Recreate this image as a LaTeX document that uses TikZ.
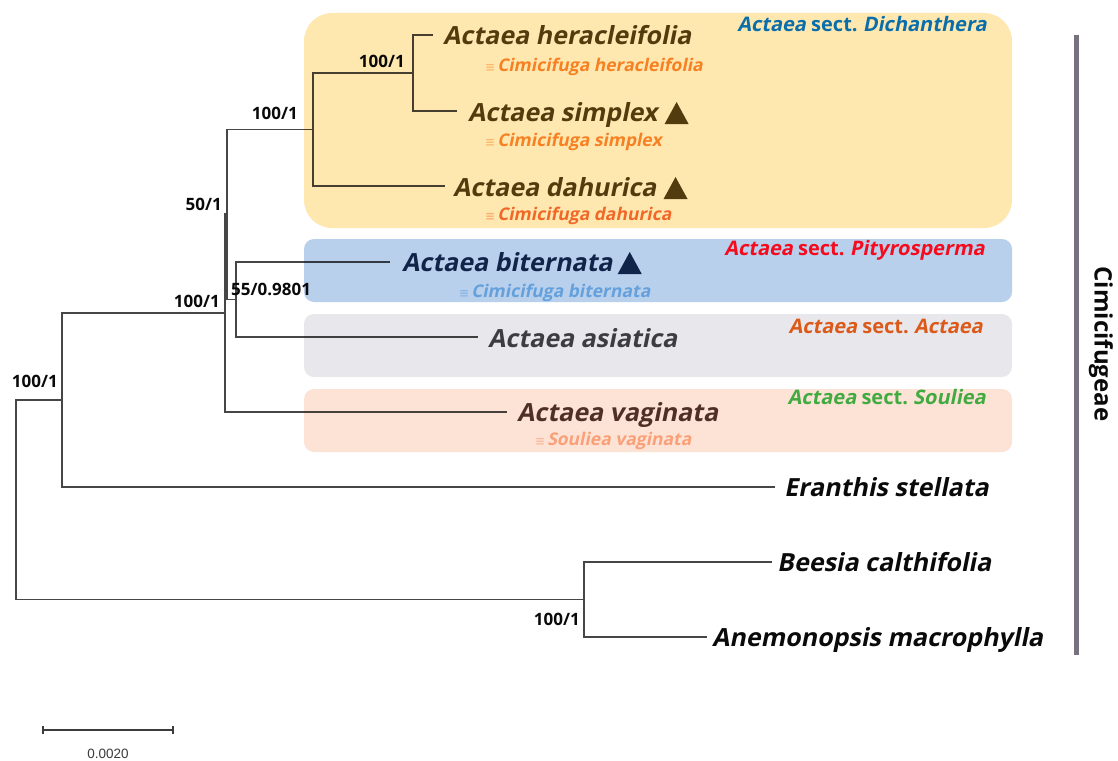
\documentclass[tikz,border=0pt]{standalone}
\usepackage{fontspec}
\setmainfont{Open Sans}
\newfontfamily\slantsans{Open Sans}[FakeSlant=0.2]
\newfontfamily\scalebarfont{Liberation Sans}
\newfontfamily\symfont{DejaVu Sans}
\definecolor{boxY}{RGB}{255,232,176}
\definecolor{boxB}{RGB}{184,208,236}
\definecolor{boxG}{RGB}{232,232,236}
\definecolor{boxP}{RGB}{253,227,214}
\definecolor{spBrown}{RGB}{82,60,14}
\definecolor{spNavy}{RGB}{16,36,74}
\definecolor{spGray}{RGB}{60,60,66}
\definecolor{spVag}{RGB}{80,48,38}
\definecolor{spBlack}{RGB}{10,10,10}
\definecolor{subOr}{RGB}{246,128,34}
\definecolor{subOrR}{RGB}{240,104,40}
\definecolor{subBlue}{RGB}{100,160,220}
\definecolor{subPink}{RGB}{250,160,120}
\definecolor{secBlue}{RGB}{10,110,170}
\definecolor{secRed}{RGB}{245,10,30}
\definecolor{secOrange}{RGB}{220,90,25}
\definecolor{secGreen}{RGB}{65,170,65}
\definecolor{treeline}{RGB}{70,70,70}
\definecolor{barGray}{RGB}{120,114,126}
\definecolor{scaleGray}{RGB}{60,60,60}
\tikzset{
  branch/.style={draw=treeline, line width=1.2pt},
  species/.style={anchor=base west, inner sep=0pt, font=\slantsans\fontsize{25}{28}\selectfont\bfseries},
  subname/.style={anchor=base west, inner sep=0pt, font=\slantsans\fontsize{17.5}{20}\selectfont\bfseries},
  sectlab/.style={anchor=base east, inner sep=0pt, font=\fontsize{20}{22}\selectfont\bfseries},
  boot/.style={inner sep=0pt, font=\fontsize{17}{19}\selectfont\bfseries, text=spBlack},
  bigbox/.style={rounded corners=28pt},
  smallbox/.style={rounded corners=10pt},
}
\newcommand{\eqv}[1]{{\symfont\fontsize{12}{12}\selectfont\color{#1}≡}\kern2pt}
\newcommand{\slnt}[1]{{\slantsans\bfseries #1}}
\begin{document}
\begin{tikzpicture}[x=1pt,y=-1pt]
\useasboundingbox (0,0) rectangle (1118,760);
\fill[white] (0,0) rectangle (1118,760);

% internal nodes
\coordinate (r) at (16,499.5);
\coordinate (ing) at (62,400);
\coordinate (outg) at (584,599.5);
\coordinate (act) at (225,313);
\coordinate (n50) at (227,214);
\coordinate (dich) at (313,129.5);
\coordinate (hs) at (413,73);
\coordinate (ba) at (236,299.5);

% tip ends
\coordinate (tHer) at (433,35);
\coordinate (tSim) at (457,111);
\coordinate (tDah) at (445,186);
\coordinate (tBit) at (390,262);
\coordinate (tAsi) at (478,337);
\coordinate (tVag) at (507,412);
\coordinate (tEra) at (775,487);
\coordinate (tBee) at (772,562);
\coordinate (tAne) at (707,637);

% branches
\draw[branch] (r) |- (ing);
\draw[branch] (r) |- (outg);
\draw[branch] (ing) |- (act);
\draw[branch] (ing) |- (tEra);
\draw[branch] (act) |- (n50);
\draw[branch] (act) |- (tVag);
\draw[branch] (n50) |- (dich);
\draw[branch] (n50) |- (ba);
\draw[branch] (dich) |- (hs);
\draw[branch] (dich) |- (tDah);
\draw[branch] (hs) |- (tHer);
\draw[branch] (hs) |- (tSim);
\draw[branch] (ba) |- (tBit);
\draw[branch] (ba) |- (tAsi);
\draw[branch] (outg) |- (tBee);
\draw[branch] (outg) |- (tAne);

% clade boxes
\begin{scope}[blend mode=multiply]
\fill[boxY, bigbox] (304,13) rectangle (1012,228);
\fill[boxB, smallbox] (304,239) rectangle (1012,302);
\fill[boxG, smallbox] (304,314) rectangle (1012,377);
\fill[boxP, smallbox] (304,389) rectangle (1012,452);
\end{scope}

% species
\node[species, text=spBrown] (her) at (443,45) {Actaea heracleifolia};
\node[species, text=spBrown] (sim) at (468,121) {Actaea simplex};
\node[species, text=spBrown] (dah) at (453,196) {Actaea dahurica};
\node[species, text=spNavy] (bit) at (402,271) {Actaea biternata};
\node[species, text=spGray] (asi) at (488,347) {Actaea asiatica};
\node[species, text=spVag] (vag) at (517,421) {Actaea vaginata};
\node[species, text=spBlack] (era) at (784,496) {Eranthis stellata};
\node[species, text=spBlack] (bee) at (777,571) {Beesia calthifolia};
\node[species, text=spBlack] (ane) at (712,646) {Anemonopsis macrophylla};

% triangles
\fill[spBrown] ([xshift=7pt,yshift=-3pt]sim.base east) -- ++(24,0) -- ++(-12,-22) -- cycle;
\fill[spBrown] ([xshift=7pt,yshift=-3pt]dah.base east) -- ++(24,0) -- ++(-12,-22) -- cycle;
\fill[spNavy] ([xshift=5pt,yshift=-3pt]bit.base east) -- ++(24,0) -- ++(-12,-22) -- cycle;

% synonyms
\node[subname, text=subOr] (herS) at (485,71) {\eqv{subOr!45!boxY}Cimicifuga heracleifolia};
\node[subname, text=subOr] (simS) at (485,146) {\eqv{subOr!45!boxY}Cimicifuga simplex};
\node[subname, text=subOrR] (dahS) at (485,220) {\eqv{subOrR!45!boxY}Cimicifuga dahurica};
\node[subname, text=subBlue] (bitS) at (459,297) {\eqv{subBlue!55!boxB}Cimicifuga biternata};
\node[subname, text=subPink] (vagS) at (535,445) {\eqv{subPink!60!boxP}Souliea vaginata};

% section labels
\node[sectlab, text=secBlue] (secD) at (987,32) {\slnt{Actaea} sect.\ \slnt{Dichanthera}};
\node[sectlab, text=secRed] (secP) at (985,255) {\slnt{Actaea} sect.\ \slnt{Pityrosperma}};
\node[sectlab, text=secOrange] (secA) at (983,333) {\slnt{Actaea} sect.\ \slnt{Actaea}};
\node[sectlab, text=secGreen] (secS) at (986,404) {\slnt{Actaea} sect.\ \slnt{Souliea}};

% support values
\node[boot, anchor=base east] (bRoot) at (58,387) {100/1};
\node[boot, anchor=base east] (bAct) at (220,307) {100/1};
\node[boot, anchor=base east] (b50) at (222,210) {50/1};
\node[boot, anchor=base west] (bBa) at (231,295) {55/0.9801};
\node[boot, anchor=base east] (bDich) at (298,119) {100/1};
\node[boot, anchor=base east] (bHs) at (405,67) {100/1};
\node[boot, anchor=base east] (bOut) at (580,625) {100/1};

% tribe bar
\coordinate (barT) at (1076,35);
\coordinate (barB) at (1076,655);
\draw[barGray, line width=5pt] (barT) -- (barB);
\node[inner sep=0pt, rotate=-90, font=\fontsize{24}{26}\selectfont\bfseries, text=spBlack] (tribe) at (1101,344) {Cimicifugeae};

% scale bar
\coordinate (sbL) at (43,730);
\coordinate (sbR) at (173,730);
\draw[scaleGray, line width=1.3pt] (sbL) -- (sbR);
\draw[scaleGray, line width=1.3pt] ([yshift=-4pt]sbL) -- ([yshift=4pt]sbL);
\draw[scaleGray, line width=1.3pt] ([yshift=-4pt]sbR) -- ([yshift=4pt]sbR);
\node[inner sep=0pt, anchor=base, font=\scalebarfont\fontsize{13.5}{15}\selectfont, text=scaleGray] (sbLab) at (108,758) {0.0020};
\end{tikzpicture}
\end{document}
